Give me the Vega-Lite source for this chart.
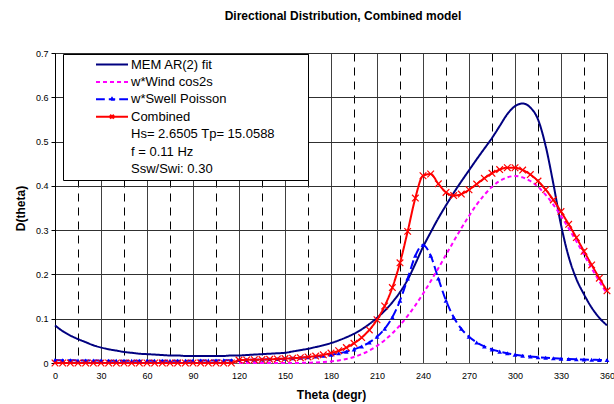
{
  "$schema": "https://vega.github.io/schema/vega-lite/v6.json",
  "width": 552,
  "height": 310,
  "autosize": {"type": "none"},
  "padding": {"left": 55, "top": 53, "right": 7, "bottom": 41},
  "background": "white",
  "title": {
    "text": "Directional Distribution, Combined model",
    "font": "Liberation Sans",
    "fontSize": 12,
    "fontWeight": "bold",
    "color": "black",
    "anchor": "middle",
    "dx": 12,
    "offset": 26
  },
  "config": {
    "font": "Liberation Sans",
    "view": {"stroke": "#808080", "strokeWidth": 1}
  },
  "data": {
    "values": [
      {"theta": 0, "MEM AR(2) fit": 0.085, "w*Wind cos2s": null, "w*Swell Poisson": 0.0066, "Combined": 0},
      {"theta": 5, "MEM AR(2) fit": 0.072, "w*Wind cos2s": null, "w*Swell Poisson": 0.0063, "Combined": 0},
      {"theta": 10, "MEM AR(2) fit": 0.062, "w*Wind cos2s": null, "w*Swell Poisson": 0.0061, "Combined": 0},
      {"theta": 15, "MEM AR(2) fit": 0.054, "w*Wind cos2s": null, "w*Swell Poisson": 0.0058, "Combined": 0},
      {"theta": 20, "MEM AR(2) fit": 0.047, "w*Wind cos2s": null, "w*Swell Poisson": 0.0056, "Combined": 0},
      {"theta": 25, "MEM AR(2) fit": 0.040, "w*Wind cos2s": null, "w*Swell Poisson": 0.0055, "Combined": 0},
      {"theta": 30, "MEM AR(2) fit": 0.035, "w*Wind cos2s": null, "w*Swell Poisson": 0.0053, "Combined": 0},
      {"theta": 35, "MEM AR(2) fit": 0.031, "w*Wind cos2s": null, "w*Swell Poisson": 0.0052, "Combined": 0},
      {"theta": 40, "MEM AR(2) fit": 0.028, "w*Wind cos2s": null, "w*Swell Poisson": 0.0051, "Combined": 0},
      {"theta": 45, "MEM AR(2) fit": 0.025, "w*Wind cos2s": null, "w*Swell Poisson": 0.0051, "Combined": 0},
      {"theta": 50, "MEM AR(2) fit": 0.023, "w*Wind cos2s": null, "w*Swell Poisson": 0.0050, "Combined": 0},
      {"theta": 55, "MEM AR(2) fit": 0.021, "w*Wind cos2s": null, "w*Swell Poisson": 0.0050, "Combined": 0},
      {"theta": 60, "MEM AR(2) fit": 0.020, "w*Wind cos2s": null, "w*Swell Poisson": 0.0050, "Combined": 0},
      {"theta": 65, "MEM AR(2) fit": 0.019, "w*Wind cos2s": null, "w*Swell Poisson": 0.0050, "Combined": 0},
      {"theta": 70, "MEM AR(2) fit": 0.018, "w*Wind cos2s": null, "w*Swell Poisson": 0.0050, "Combined": 0},
      {"theta": 75, "MEM AR(2) fit": 0.017, "w*Wind cos2s": null, "w*Swell Poisson": 0.0051, "Combined": 0},
      {"theta": 80, "MEM AR(2) fit": 0.017, "w*Wind cos2s": null, "w*Swell Poisson": 0.0051, "Combined": 0},
      {"theta": 85, "MEM AR(2) fit": 0.016, "w*Wind cos2s": null, "w*Swell Poisson": 0.0052, "Combined": 0},
      {"theta": 90, "MEM AR(2) fit": 0.016, "w*Wind cos2s": null, "w*Swell Poisson": 0.0053, "Combined": 0},
      {"theta": 95, "MEM AR(2) fit": 0.016, "w*Wind cos2s": null, "w*Swell Poisson": 0.0055, "Combined": 0},
      {"theta": 100, "MEM AR(2) fit": 0.016, "w*Wind cos2s": null, "w*Swell Poisson": 0.0056, "Combined": 0},
      {"theta": 105, "MEM AR(2) fit": 0.016, "w*Wind cos2s": null, "w*Swell Poisson": 0.0058, "Combined": 0},
      {"theta": 110, "MEM AR(2) fit": 0.016, "w*Wind cos2s": null, "w*Swell Poisson": 0.0061, "Combined": 0},
      {"theta": 115, "MEM AR(2) fit": 0.017, "w*Wind cos2s": null, "w*Swell Poisson": 0.0063, "Combined": 0},
      {"theta": 120, "MEM AR(2) fit": 0.017, "w*Wind cos2s": 0, "w*Swell Poisson": 0.0066, "Combined": 0.0066},
      {"theta": 125, "MEM AR(2) fit": 0.018, "w*Wind cos2s": 0, "w*Swell Poisson": 0.0070, "Combined": 0.0070},
      {"theta": 130, "MEM AR(2) fit": 0.019, "w*Wind cos2s": 0, "w*Swell Poisson": 0.0074, "Combined": 0.0074},
      {"theta": 135, "MEM AR(2) fit": 0.020, "w*Wind cos2s": 0, "w*Swell Poisson": 0.0078, "Combined": 0.0078},
      {"theta": 140, "MEM AR(2) fit": 0.021, "w*Wind cos2s": 0, "w*Swell Poisson": 0.0084, "Combined": 0.0084},
      {"theta": 145, "MEM AR(2) fit": 0.022, "w*Wind cos2s": 0.0001, "w*Swell Poisson": 0.0090, "Combined": 0.0091},
      {"theta": 150, "MEM AR(2) fit": 0.023, "w*Wind cos2s": 0.0001, "w*Swell Poisson": 0.0098, "Combined": 0.0099},
      {"theta": 155, "MEM AR(2) fit": 0.026, "w*Wind cos2s": 0.0001, "w*Swell Poisson": 0.0107, "Combined": 0.0108},
      {"theta": 160, "MEM AR(2) fit": 0.029, "w*Wind cos2s": 0.0003, "w*Swell Poisson": 0.0118, "Combined": 0.0121},
      {"theta": 165, "MEM AR(2) fit": 0.032, "w*Wind cos2s": 0.0006, "w*Swell Poisson": 0.0131, "Combined": 0.0137},
      {"theta": 170, "MEM AR(2) fit": 0.036, "w*Wind cos2s": 0.0011, "w*Swell Poisson": 0.0146, "Combined": 0.0157},
      {"theta": 175, "MEM AR(2) fit": 0.040, "w*Wind cos2s": 0.0020, "w*Swell Poisson": 0.0165, "Combined": 0.0185},
      {"theta": 180, "MEM AR(2) fit": 0.045, "w*Wind cos2s": 0.0035, "w*Swell Poisson": 0.0189, "Combined": 0.0224},
      {"theta": 185, "MEM AR(2) fit": 0.051, "w*Wind cos2s": 0.0058, "w*Swell Poisson": 0.0219, "Combined": 0.0277},
      {"theta": 190, "MEM AR(2) fit": 0.058, "w*Wind cos2s": 0.0091, "w*Swell Poisson": 0.0257, "Combined": 0.0348},
      {"theta": 195, "MEM AR(2) fit": 0.066, "w*Wind cos2s": 0.0137, "w*Swell Poisson": 0.0307, "Combined": 0.0444},
      {"theta": 200, "MEM AR(2) fit": 0.076, "w*Wind cos2s": 0.0200, "w*Swell Poisson": 0.0374, "Combined": 0.0574},
      {"theta": 205, "MEM AR(2) fit": 0.088, "w*Wind cos2s": 0.0282, "w*Swell Poisson": 0.0465, "Combined": 0.0747},
      {"theta": 210, "MEM AR(2) fit": 0.102, "w*Wind cos2s": 0.0386, "w*Swell Poisson": 0.0591, "Combined": 0.0977},
      {"theta": 215, "MEM AR(2) fit": 0.118, "w*Wind cos2s": 0.0515, "w*Swell Poisson": 0.0772, "Combined": 0.1287},
      {"theta": 220, "MEM AR(2) fit": 0.137, "w*Wind cos2s": 0.0670, "w*Swell Poisson": 0.1033, "Combined": 0.1703},
      {"theta": 225, "MEM AR(2) fit": 0.160, "w*Wind cos2s": 0.0854, "w*Swell Poisson": 0.1409, "Combined": 0.2263},
      {"theta": 230, "MEM AR(2) fit": 0.188, "w*Wind cos2s": 0.1065, "w*Swell Poisson": 0.1907, "Combined": 0.2972},
      {"theta": 235, "MEM AR(2) fit": 0.224, "w*Wind cos2s": 0.1302, "w*Swell Poisson": 0.2423, "Combined": 0.3725},
      {"theta": 240, "MEM AR(2) fit": 0.262, "w*Wind cos2s": 0.1563, "w*Swell Poisson": 0.2665, "Combined": 0.4228},
      {"theta": 245, "MEM AR(2) fit": 0.295, "w*Wind cos2s": 0.1845, "w*Swell Poisson": 0.2423, "Combined": 0.4268},
      {"theta": 250, "MEM AR(2) fit": 0.327, "w*Wind cos2s": 0.2140, "w*Swell Poisson": 0.1907, "Combined": 0.4047},
      {"theta": 255, "MEM AR(2) fit": 0.356, "w*Wind cos2s": 0.2443, "w*Swell Poisson": 0.1409, "Combined": 0.3852},
      {"theta": 260, "MEM AR(2) fit": 0.384, "w*Wind cos2s": 0.2747, "w*Swell Poisson": 0.1033, "Combined": 0.3780},
      {"theta": 265, "MEM AR(2) fit": 0.410, "w*Wind cos2s": 0.3042, "w*Swell Poisson": 0.0772, "Combined": 0.3814},
      {"theta": 270, "MEM AR(2) fit": 0.435, "w*Wind cos2s": 0.3321, "w*Swell Poisson": 0.0591, "Combined": 0.3912},
      {"theta": 275, "MEM AR(2) fit": 0.460, "w*Wind cos2s": 0.3575, "w*Swell Poisson": 0.0465, "Combined": 0.4040},
      {"theta": 280, "MEM AR(2) fit": 0.484, "w*Wind cos2s": 0.3797, "w*Swell Poisson": 0.0374, "Combined": 0.4171},
      {"theta": 285, "MEM AR(2) fit": 0.508, "w*Wind cos2s": 0.3977, "w*Swell Poisson": 0.0307, "Combined": 0.4284},
      {"theta": 290, "MEM AR(2) fit": 0.535, "w*Wind cos2s": 0.4110, "w*Swell Poisson": 0.0257, "Combined": 0.4367},
      {"theta": 295, "MEM AR(2) fit": 0.562, "w*Wind cos2s": 0.4192, "w*Swell Poisson": 0.0219, "Combined": 0.4411},
      {"theta": 300, "MEM AR(2) fit": 0.580, "w*Wind cos2s": 0.4220, "w*Swell Poisson": 0.0189, "Combined": 0.4409},
      {"theta": 305, "MEM AR(2) fit": 0.586, "w*Wind cos2s": 0.4192, "w*Swell Poisson": 0.0165, "Combined": 0.4357},
      {"theta": 310, "MEM AR(2) fit": 0.577, "w*Wind cos2s": 0.4110, "w*Swell Poisson": 0.0146, "Combined": 0.4256},
      {"theta": 315, "MEM AR(2) fit": 0.550, "w*Wind cos2s": 0.3977, "w*Swell Poisson": 0.0131, "Combined": 0.4108},
      {"theta": 320, "MEM AR(2) fit": 0.490, "w*Wind cos2s": 0.3797, "w*Swell Poisson": 0.0118, "Combined": 0.3915},
      {"theta": 325, "MEM AR(2) fit": 0.405, "w*Wind cos2s": 0.3575, "w*Swell Poisson": 0.0107, "Combined": 0.3682},
      {"theta": 330, "MEM AR(2) fit": 0.312, "w*Wind cos2s": 0.3321, "w*Swell Poisson": 0.0098, "Combined": 0.3419},
      {"theta": 335, "MEM AR(2) fit": 0.240, "w*Wind cos2s": 0.3042, "w*Swell Poisson": 0.0090, "Combined": 0.3132},
      {"theta": 340, "MEM AR(2) fit": 0.190, "w*Wind cos2s": 0.2747, "w*Swell Poisson": 0.0084, "Combined": 0.2831},
      {"theta": 345, "MEM AR(2) fit": 0.155, "w*Wind cos2s": 0.2443, "w*Swell Poisson": 0.0078, "Combined": 0.2521},
      {"theta": 350, "MEM AR(2) fit": 0.125, "w*Wind cos2s": 0.2140, "w*Swell Poisson": 0.0074, "Combined": 0.2214},
      {"theta": 355, "MEM AR(2) fit": 0.102, "w*Wind cos2s": 0.1845, "w*Swell Poisson": 0.0070, "Combined": 0.1915},
      {"theta": 360, "MEM AR(2) fit": 0.085, "w*Wind cos2s": 0.1563, "w*Swell Poisson": 0.0066, "Combined": 0.1629}
    ]
  },
  "transform": [
    {"fold": ["MEM AR(2) fit", "w*Wind cos2s", "w*Swell Poisson", "Combined"], "as": ["series", "value"]},
    {"filter": "isValid(datum.value)"}
  ],
  "encoding": {
    "x": {
      "field": "theta",
      "type": "quantitative",
      "scale": {"domain": [0, 360], "nice": false, "zero": false},
      "axis": {
        "values": [0, 15, 30, 45, 60, 75, 90, 105, 120, 135, 150, 165, 180, 195, 210, 225, 240, 255, 270, 285, 300, 315, 330, 345, 360],
        "labelExpr": "datum.value % 30 === 0 ? datum.label : ''",
        "title": "Theta (degr)",
        "grid": true,
        "gridColor": "black",
        "gridWidth": 1,
        "gridDash": {"condition": {"test": "datum.value % 30 === 15", "value": [8, 6]}, "value": [1, 0]},
        "ticks": false,
        "domainColor": "#606060",
        "labelFont": "Liberation Sans",
        "labelFontSize": 9,
        "labelColor": "black",
        "labelPadding": 8,
        "labelFlush": false,
        "titleFont": "Liberation Sans",
        "titleFontSize": 12,
        "titleFontWeight": "bold",
        "titleColor": "black",
        "titlePadding": 9
      }
    },
    "y": {
      "field": "value",
      "type": "quantitative",
      "scale": {"domain": [0, 0.7], "nice": false},
      "axis": {
        "values": [0, 0.1, 0.2, 0.3, 0.4, 0.5, 0.6, 0.7],
        "format": ".1~f",
        "title": "D(theta)",
        "grid": true,
        "gridColor": "#303030",
        "gridWidth": 1,
        "tickColor": "black",
        "tickSize": 4,
        "domainColor": "black",
        "labelFont": "Liberation Sans",
        "labelFontSize": 9,
        "labelColor": "black",
        "labelPadding": 3,
        "titleFont": "Liberation Sans",
        "titleFontSize": 12,
        "titleFontWeight": "bold",
        "titleColor": "black",
        "titlePadding": 8
      }
    }
  },
  "layer": [
    {
      "mark": {"type": "line", "strokeWidth": 2, "interpolate": "monotone"},
      "encoding": {
        "color": {
          "field": "series",
          "type": "nominal",
          "sort": null,
          "scale": {
            "domain": ["MEM AR(2) fit", "w*Wind cos2s", "w*Swell Poisson", "Combined", "Hs= 2.6505 Tp= 15.0588", "f = 0.11 Hz", "Ssw/Swi: 0.30"],
            "range": ["#000080", "#FF00FF", "#0000FF", "#FF0000", "transparent", "transparent", "transparent"]
          },
          "legend": {
            "orient": "none",
            "legendX": 8,
            "legendY": 1,
            "title": "\u2800\u2800\u2800",
            "titleOrient": "right",
            "titleFont": "DejaVu Sans",
            "titleFontSize": 13,
            "titlePadding": 0,
            "strokeColor": "black",
            "fillColor": "white",
            "padding": 2,
            "symbolType": "stroke",
            "symbolSize": 1024,
            "symbolStrokeWidth": 2,
            "symbolOffset": 30,
            "clipHeight": 17,
            "rowPadding": 0.4,
            "labelFont": "Liberation Sans",
            "labelFontSize": 13,
            "labelColor": "black",
            "labelOffset": 2,
            "labelLimit": 400,
            "encode": {
              "symbols": {
                "update": {
                  "shape": {"signal": "datum.value === 'Combined' ? 'M-1,0L1,0M-0.12,-0.12L0.12,0.12M-0.12,0.12L0.12,-0.12' : datum.value === 'w*Swell Poisson' ? 'M-1,0L-0.45,0M-0.2,0L0.2,0M0.45,0L1,0M-0.07,0.03L0,-0.08L0.07,0.03Z' : 'stroke'"}
                }
              }
            }
          }
        },
        "strokeDash": {
          "field": "series",
          "type": "nominal",
          "sort": null,
          "scale": {
            "domain": ["MEM AR(2) fit", "w*Wind cos2s", "w*Swell Poisson", "Combined", "Hs= 2.6505 Tp= 15.0588", "f = 0.11 Hz", "Ssw/Swi: 0.30"],
            "range": [[1, 0], [4, 3], [9, 4], [1, 0], [1, 0], [1, 0], [1, 0]]
          }
        }
      }
    },
    {
      "transform": [{"filter": "datum.series === 'w*Swell Poisson'"}],
      "mark": {"type": "point", "shape": "triangle-up", "filled": true, "size": 22, "color": "#0000FF", "opacity": 1}
    },
    {
      "transform": [{"filter": "datum.series === 'Combined'"}],
      "mark": {"type": "point", "shape": "M-1,-1L1,1M1,-1L-1,1", "filled": false, "size": 44, "color": "#FF0000", "strokeWidth": 1.2, "opacity": 1}
    }
  ]
}
